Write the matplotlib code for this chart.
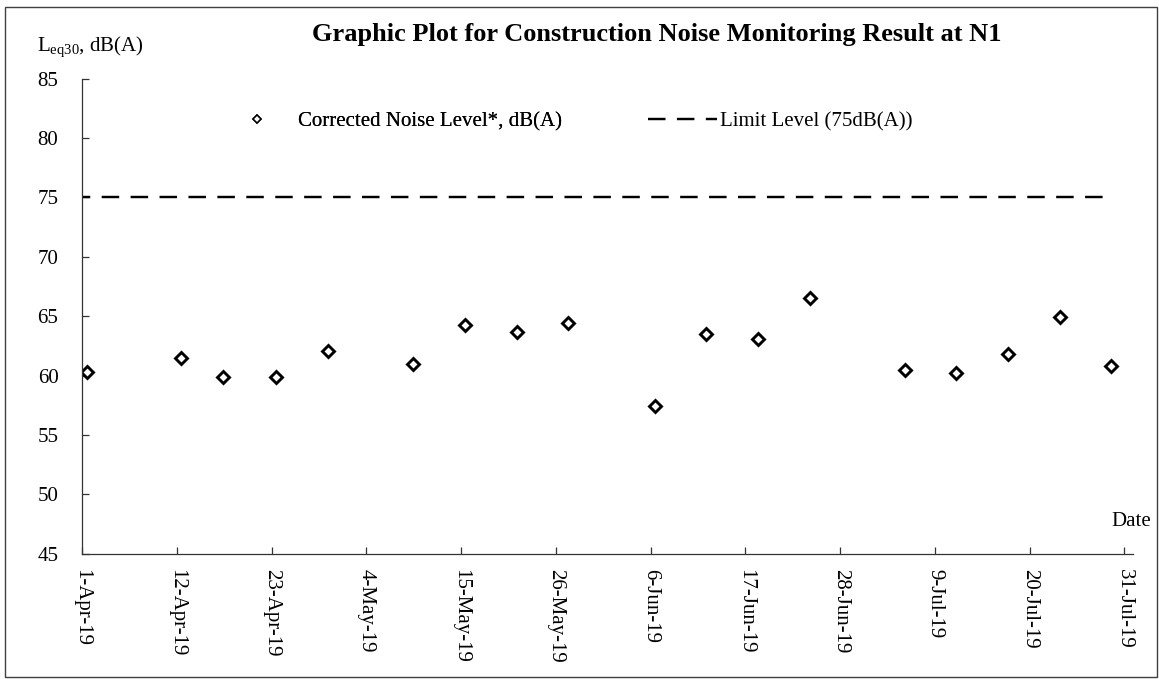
import pandas as pd
import numpy as np
import matplotlib
matplotlib.use('Agg')
import matplotlib.pyplot as plt
import matplotlib.dates as mdates
from matplotlib.lines import Line2D
from matplotlib.patches import Rectangle

plt.rcParams['font.family'] = ['Liberation Serif', 'DejaVu Serif']
plt.rcParams['mathtext.fontset'] = 'custom'
plt.rcParams['mathtext.rm'] = 'Liberation Serif'

# Data
sample_times = ['2019-04-01 13:00', '2019-04-12 13:00', '2019-04-17 10:00', '2019-04-23 12:00',
                '2019-04-29 12:00', '2019-05-09 10:00', '2019-05-15 12:00', '2019-05-21 12:00',
                '2019-05-27 10:00', '2019-06-06 12:00', '2019-06-12 10:00', '2019-06-18 10:00',
                '2019-06-24 12:00', '2019-07-05 12:00', '2019-07-11 10:00', '2019-07-17 12:00',
                '2019-07-23 12:00', '2019-07-29 10:00']
noise_levels = [60.3, 61.5, 59.9, 59.9, 62.1, 61.0, 64.3, 63.7, 64.4, 57.4,
                63.5, 63.1, 66.5, 60.5, 60.2, 61.8, 64.9, 60.8]
limit_dates = ['2019-04-01', '2019-07-29']
limit_level = [75, 75]
tick_dates = ['2019-04-01', '2019-04-12', '2019-04-23', '2019-05-04', '2019-05-15', '2019-05-26',
              '2019-06-06', '2019-06-17', '2019-06-28', '2019-07-09', '2019-07-20', '2019-07-31']
y_ticks = [45, 50, 55, 60, 65, 70, 75, 80, 85]

sample_times = pd.to_datetime(sample_times)
limit_dates = pd.to_datetime(limit_dates)
tick_dates = pd.to_datetime(tick_dates)

fig = plt.figure(figsize=(11.59, 6.79), dpi=100)
ax = fig.add_axes([0.0708, 0.1845, 0.9068, 0.6996])

# dashes in linewidth units: ~17px on, ~11px off
dash_style = (3.8, (7.2, 4.7))
ax.plot(limit_dates, limit_level, color='black', linewidth=1.75, linestyle=dash_style)
ax.plot(sample_times, noise_levels, linestyle='none', marker='D', markersize=5.8,
        markerfacecolor='white', markeredgecolor='black', markeredgewidth=2.1)

ax.set_xlim(pd.Timestamp('2019-04-01'), pd.Timestamp('2019-08-01'))
ax.set_ylim(45, 85)
ax.set_yticks(y_ticks)
ax.set_xticks(tick_dates)
ax.xaxis.set_major_formatter(mdates.DateFormatter('%-d-%b-%y'))
for lbl in ax.get_xticklabels():
    lbl.set_rotation(270)
    lbl.set_ha('center')
    lbl.set_va('top')

ax.tick_params(axis='both', direction='in', length=5, width=0.9, colors='#333333',
               labelcolor='black', labelsize=15)
ax.tick_params(axis='y', pad=17)
ax.tick_params(axis='x', pad=11)
for side in ['top', 'right']:
    ax.spines[side].set_visible(False)
for side in ['left', 'bottom']:
    ax.spines[side].set_color('#333333')
    ax.spines[side].set_linewidth(0.9)

# Legend (two pieces, placed like the original)
h1 = Line2D([], [], linestyle='none', marker='D', markersize=4.2, markerfacecolor='white',
            markeredgecolor='black', markeredgewidth=1.1)
h2 = Line2D([], [], color='black', linewidth=1.75, linestyle=(0, (7.2, 4.7)))
leg1 = fig.legend([h1], ['Corrected Noise Level*, dB(A)'], loc='center left',
                  bbox_to_anchor=(236 / 1159, 1 - 122 / 679), frameon=False, fontsize=15,
                  handlelength=2.0, handletextpad=1.0, borderpad=0, borderaxespad=0)
fig.add_artist(leg1)
fig.legend([h2], ['Limit Level (75dB(A))'], loc='center left',
           bbox_to_anchor=(648 / 1159, 1 - 122 / 679), frameon=False, fontsize=15,
           handlelength=3.33, handletextpad=0.15, borderpad=0, borderaxespad=0)

fig.text(657 / 1159, 1 - 34 / 679, 'Graphic Plot for Construction Noise Monitoring Result at N1',
         ha='center', va='center', fontsize=19, fontweight='bold')
fig.text(37 / 1159, 1 - 47 / 679, r'$\mathregular{L_{eq30}}$, dB(A)', ha='left', va='center',
         fontsize=15)
fig.text(1151 / 1159, 1 - 521 / 679, 'Date', ha='right', va='center', fontsize=15)

fig.add_artist(Rectangle((5 / 1159, 2 / 679), 1152 / 1159, 670 / 679, transform=fig.transFigure,
                         fill=False, edgecolor='#404040', linewidth=1.0))

plt.savefig('out.png', dpi=100)
